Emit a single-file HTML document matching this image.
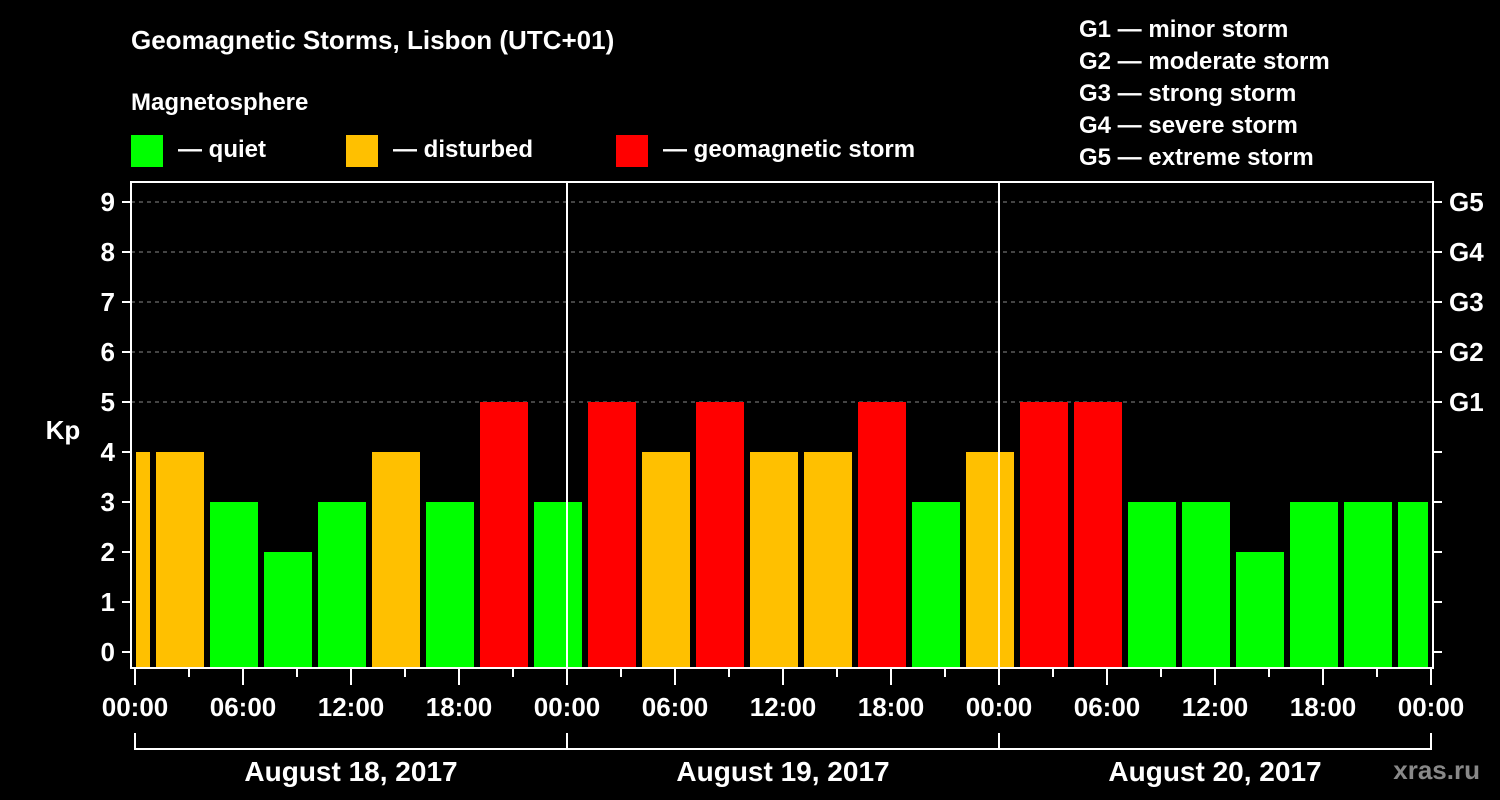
<!DOCTYPE html>
<html><head><meta charset="utf-8"><style>
body{margin:0;background:#000;}
svg{display:block;font-family:"Liberation Sans",sans-serif;font-weight:bold;}
</style></head><body>
<svg id="c" width="1500" height="800" viewBox="0 0 1500 800">
<rect width="1500" height="800" fill="#000"/>
<text x="131" y="49" fill="#fff" font-size="26">Geomagnetic Storms, Lisbon (UTC+01)</text>
<text x="131" y="110" fill="#fff" font-size="24">Magnetosphere</text>
<g><rect x="131" y="135" width="32" height="32" fill="#00ff00"/><text x="178" y="157" fill="#fff" font-size="24">— quiet</text></g>
<g><rect x="346" y="135" width="32" height="32" fill="#ffc000"/><text x="393" y="157" fill="#fff" font-size="24">— disturbed</text></g>
<g><rect x="616" y="135" width="32" height="32" fill="#ff0000"/><text x="663" y="157" fill="#fff" font-size="24">— geomagnetic storm</text></g>
<g fill="#fff" font-size="24">
<text x="1079" y="37">G1 — minor storm</text>
<text x="1079" y="69">G2 — moderate storm</text>
<text x="1079" y="101">G3 — strong storm</text>
<text x="1079" y="133">G4 — severe storm</text>
<text x="1079" y="165">G5 — extreme storm</text>
</g>
<text x="63" y="439" fill="#fff" font-size="26" text-anchor="middle">Kp</text>
<g id="grid"></g><g id="bars"></g><g id="axes"></g>
<text x="1480" y="779" fill="#888" font-size="26" text-anchor="end">xras.ru</text>
</svg>
<script>
const kpValues=[4,4,3,2,3,4,3,5,3,5,4,5,4,4,5,3,4,5,5,3,3,2,3,3,3];
const yTicks=[0,1,2,3,4,5,6,7,8,9];
const gLabels=["G1","G2","G3","G4","G5"];
const xLabels=["00:00","06:00","12:00","18:00","00:00","06:00","12:00","18:00","00:00","06:00","12:00","18:00","00:00"];
const dates=["August 18, 2017","August 19, 2017","August 20, 2017"];
const NS="http://www.w3.org/2000/svg";
const X0=135,PXH=18,L=131,R=1433,T=182,B=668;
const x=h=>X0+h*PXH, y=v=>652-v*50;
function mk(p,t,a){const e=document.createElementNS(NS,t);for(const k in a)e.setAttribute(k,a[k]);p.appendChild(e);return e;}
const grid=document.getElementById('grid'),bars=document.getElementById('bars'),axes=document.getElementById('axes');
for(let v=5;v<=9;v++){const l=mk(grid,'line',{x1:L,x2:R,y1:y(v),y2:y(v),stroke:'#888','stroke-dasharray':'4,4'});

}
kpValues.forEach((v,i)=>{
 let s=Math.max(x(-2+3*i)+3,L+5),e=Math.min(x(1+3*i)-3,R-5);
 const c=v>=5?'#ff0000':v==4?'#ffc000':'#00ff00';
 const r=mk(bars,'rect',{x:s,y:y(v),width:e-s,height:B-y(v),fill:c});
 
 
});
mk(axes,'rect',{x:L,y:T,width:R-L,height:B-T,fill:'none',stroke:'#fff','stroke-width':2});
[1,2].forEach(d=>{const l=mk(axes,'line',{x1:x(24*d),x2:x(24*d),y1:T,y2:B,stroke:'#fff','stroke-width':2});

});
yTicks.forEach(v=>{
 mk(axes,'line',{x1:L-9,x2:L,y1:y(v),y2:y(v),stroke:'#fff','stroke-width':2});
 mk(axes,'line',{x1:R,x2:R+9,y1:y(v),y2:y(v),stroke:'#fff','stroke-width':2});
 const t=mk(axes,'text',{x:L-16,y:y(v)+9,fill:'#fff','font-size':26,'text-anchor':'end'});t.textContent=v;
 
 
});
gLabels.forEach((g,i)=>{const t=mk(axes,'text',{x:R+16,y:y(5+i)+9,fill:'#fff','font-size':26});t.textContent=g;
 
 });
for(let h=0;h<=72;h+=3){const maj=h%6==0;mk(axes,'line',{x1:x(h),x2:x(h),y1:B,y2:B+(maj?17:9),stroke:'#fff','stroke-width':2});}
xLabels.forEach((s,i)=>{const t=mk(axes,'text',{x:x(i*6),y:716,fill:'#fff','font-size':26,'text-anchor':'middle'});t.textContent=s;
 
 });
mk(axes,'line',{x1:x(0),x2:x(72),y1:749,y2:749,stroke:'#fff','stroke-width':2});
for(let d=0;d<=3;d++)mk(axes,'line',{x1:x(24*d),x2:x(24*d),y1:733,y2:750,stroke:'#fff','stroke-width':2});
dates.forEach((s,i)=>{const t=mk(axes,'text',{x:x(24*i+12),y:781,fill:'#fff','font-size':28,'text-anchor':'middle'});t.textContent=s;
 
 });
</script>
</body></html>
